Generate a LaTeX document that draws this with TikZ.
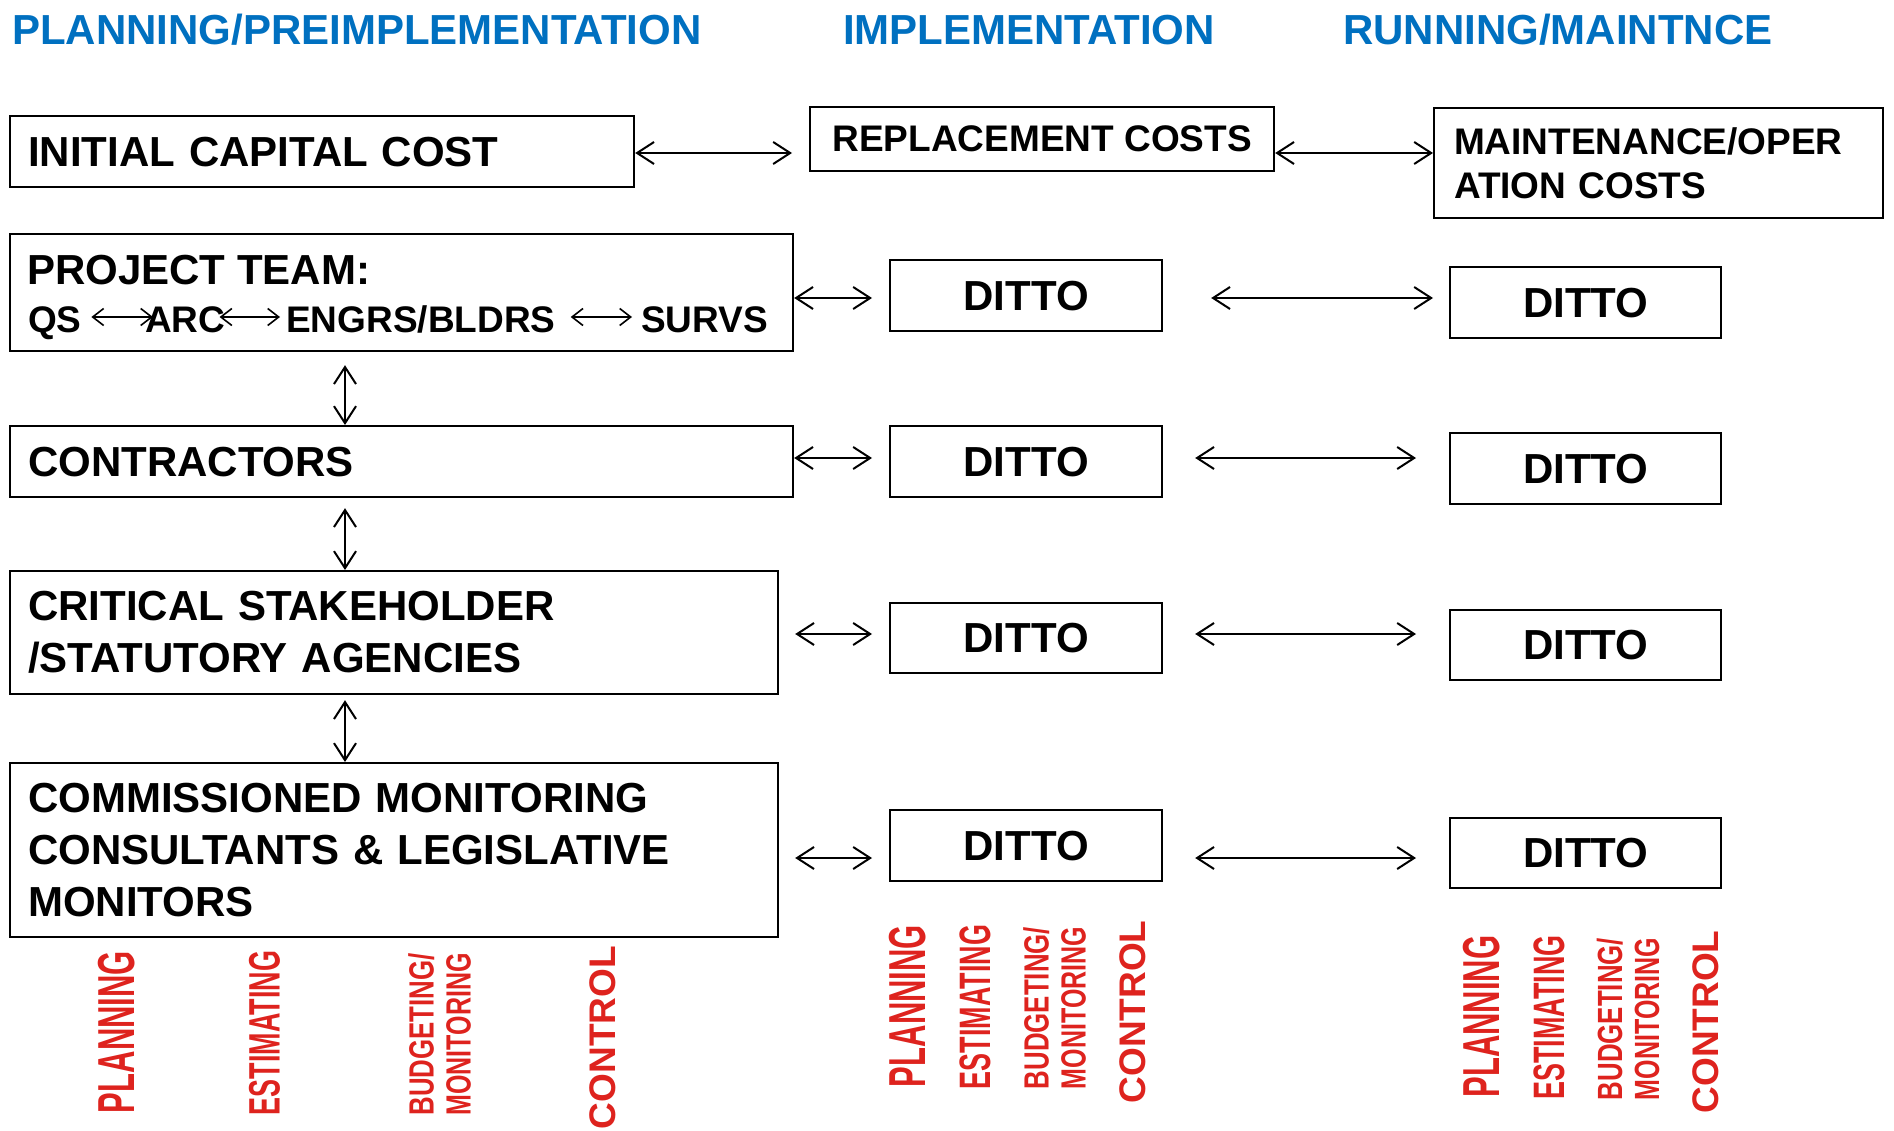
\documentclass[tikz,border=0pt]{standalone}
\usepackage{fontspec}
\setmainfont{Liberation Sans}
\usepackage{graphicx}
\usetikzlibrary{arrows.meta,calc}
\definecolor{hdrblue}{RGB}{0,112,192}
\definecolor{lblred}{RGB}{222,35,30}
\newcommand{\fitw}[2]{\resizebox{#1}{\height}{#2}}
\begin{document}
\begin{tikzpicture}[x=1pt,y=-1pt,
  box/.style={draw, line width=2.2pt, inner sep=0pt, anchor=north west},
  lbox/.style={box, align=left, inner xsep=18pt},
  dbox/.style={box, minimum width=272pt, minimum height=71pt, bigtxt},
  arr/.style={line width=2pt, {Straight Barb[length=17pt,width=22pt]}-{Straight Barb[length=17pt,width=22pt]}},
  tarr/.style={line width=1.6pt, {Straight Barb[length=11pt,width=17pt]}-{Straight Barb[length=11pt,width=17pt]}},
  bigtxt/.style={font=\bfseries\fontsize{42}{52}\selectfont},
  midtxt/.style={font=\bfseries\fontsize{37}{42}\selectfont},
  hdr/.style={font=\bfseries\fontsize{42}{50}\selectfont, text=hdrblue, anchor=base west, inner sep=0pt},
  redlbl/.style={text=lblred, rotate=90, inner sep=0pt, align=center}
]
\fill[white] (0,0) rectangle (1894,1131);
\useasboundingbox (0,0) rectangle (1894,1131);

% headers
\node[hdr] (h1) at (12,45) {PLANNING/PREIMPLEMENTATION};
\node[hdr] (h2) at (843,45) {IMPLEMENTATION};
\node[hdr] (h3) at (1343,45) {RUNNING/MAINTNCE};

% row 0
\node[lbox, bigtxt, text width=588pt, minimum height=71pt] (init) at (9,115) {INITIAL CAPITAL COST};
\node[box, midtxt, minimum width=464pt, minimum height=64pt] (rep) at (809,106) {REPLACEMENT COSTS};
\node[box, font=\bfseries\fontsize{37}{44}\selectfont, align=left, inner xsep=20pt, text width=409pt, minimum height=110pt] (mnt) at (1433,107) {MAINTENANCE/OPER\\ATION COSTS};

% left column
\node[box, minimum width=783pt, minimum height=117pt] (pt) at (9,233) {};
\node[bigtxt, anchor=base west, inner sep=0pt] (ptt) at (27,285) {PROJECT TEAM:};
\node[midtxt, anchor=base west, inner sep=0pt] (qs) at (28,332) {QS};
\node[midtxt, anchor=base west, inner sep=0pt] (arc) at (145,332) {ARC};
\node[midtxt, anchor=base west, inner sep=0pt] (eng) at (286,332) {ENGRS/BLDRS};
\node[midtxt, anchor=base west, inner sep=0pt] (surv) at (641,332) {SURVS};
\coordinate (ty) at (0,317);
\draw[tarr] ($(qs.east |- ty)+(9.5,0)$) -- ($(arc.west |- ty)+(8,0)$);
\draw[tarr] ($(arc.east |- ty)+(-6,0)$) -- ($(eng.west |- ty)+(-6,0)$);
\draw[tarr] ($(eng.east |- ty)+(15,0)$) -- ($(surv.west |- ty)+(-9,0)$);

\node[lbox, bigtxt, text width=747pt, minimum height=71pt] (con) at (9,425) {CONTRACTORS};
\node[lbox, bigtxt, text width=732pt, minimum height=123pt] (cs) at (9,570) {CRITICAL STAKEHOLDER\\/STATUTORY AGENCIES};
\node[lbox, bigtxt, text width=732pt, minimum height=174pt] (cm) at (9,762) {COMMISSIONED MONITORING\\CONSULTANTS \& LEGISLATIVE\\MONITORS};

% ditto boxes
\node[dbox] (d1a) at (889,259) {DITTO};
\node[dbox, minimum width=271pt] (d1b) at (1449,266) {DITTO};
\node[dbox] (d2a) at (889,425) {DITTO};
\node[dbox, minimum width=271pt] (d2b) at (1449,432) {DITTO};
\node[dbox, minimum height=70pt] (d3a) at (889,602) {DITTO};
\node[dbox, minimum width=271pt, minimum height=70pt] (d3b) at (1449,609) {DITTO};
\node[dbox, minimum height=71pt] (d4a) at (889,809) {DITTO};
\node[dbox, minimum width=271pt, minimum height=70pt] (d4b) at (1449,817) {DITTO};

% arrows
\coordinate (r0) at (0,153);
\coordinate (r1) at (0,298);
\coordinate (r2) at (0,458);
\coordinate (r3) at (0,634);
\coordinate (r4) at (0,858);
\coordinate (vx) at (345,0);

\draw[arr, shorten >=17pt] (init.east |- r0) -- (rep.west |- r0);
\draw[arr] (rep.east |- r0) -- (mnt.west |- r0);
\draw[arr, shorten >=17pt] (pt.east |- r1) -- (d1a.west |- r1);
\draw[arr, shorten <=48pt, shorten >=16pt] (d1a.east |- r1) -- (d1b.west |- r1);
\draw[arr, shorten >=17pt] (con.east |- r2) -- (d2a.west |- r2);
\draw[arr, shorten <=32pt, shorten >=33pt] (d2a.east |- r2) -- (d2b.west |- r2);
\draw[arr, shorten <=16pt, shorten >=17pt] (cs.east |- r3) -- (d3a.west |- r3);
\draw[arr, shorten <=32pt, shorten >=33pt] (d3a.east |- r3) -- (d3b.west |- r3);
\draw[arr, shorten <=16pt, shorten >=17pt] (cm.east |- r4) -- (d4a.west |- r4);
\draw[arr, shorten <=32pt, shorten >=33pt] (d4a.east |- r4) -- (d4b.west |- r4);

\draw[arr, shorten <=13pt] (pt.south -| vx) -- (con.north -| vx);
\draw[arr, shorten <=10pt] (con.south -| vx) -- (cs.north -| vx);
\draw[arr, shorten <=5pt] (cs.south -| vx) -- (cm.north -| vx);

% red labels
\node[redlbl, font=\bfseries\fontsize{52}{52}\selectfont] (lp1) at (117,1032) {\fitw{162pt}{PLANNING}};
\node[redlbl, font=\bfseries\fontsize{44}{44}\selectfont] (le1) at (264.5,1033) {\fitw{164pt}{ESTIMATING}};
\node[redlbl, font=\bfseries\fontsize{35}{37}\selectfont] (lb1) at (439.5,1034.5) {\fitw{162pt}{BUDGETING/}\\\fitw{162pt}{MONITORING}};
\node[redlbl, font=\bfseries\fontsize{37}{37}\selectfont] (lc1) at (602.5,1037.5) {\fitw{183pt}{CONTROL}};

\node[redlbl, font=\bfseries\fontsize{52}{52}\selectfont] (lp2) at (907.5,1006) {\fitw{162pt}{PLANNING}};
\node[redlbl, font=\bfseries\fontsize{44}{44}\selectfont] (le2) at (975,1007) {\fitw{164pt}{ESTIMATING}};
\node[redlbl, font=\bfseries\fontsize{35}{37}\selectfont] (lb2) at (1054.5,1008) {\fitw{162pt}{BUDGETING/}\\\fitw{162pt}{MONITORING}};
\node[redlbl, font=\bfseries\fontsize{37}{37}\selectfont] (lc2) at (1132.5,1012) {\fitw{183pt}{CONTROL}};

\node[redlbl, font=\bfseries\fontsize{52}{52}\selectfont] (lp3) at (1481.5,1016.5) {\fitw{162pt}{PLANNING}};
\node[redlbl, font=\bfseries\fontsize{44}{44}\selectfont] (le3) at (1549,1017.5) {\fitw{164pt}{ESTIMATING}};
\node[redlbl, font=\bfseries\fontsize{35}{37}\selectfont] (lb3) at (1628,1019) {\fitw{162pt}{BUDGETING/}\\\fitw{162pt}{MONITORING}};
\node[redlbl, font=\bfseries\fontsize{37}{37}\selectfont] (lc3) at (1706,1022) {\fitw{183pt}{CONTROL}};
\end{tikzpicture}
\end{document}
